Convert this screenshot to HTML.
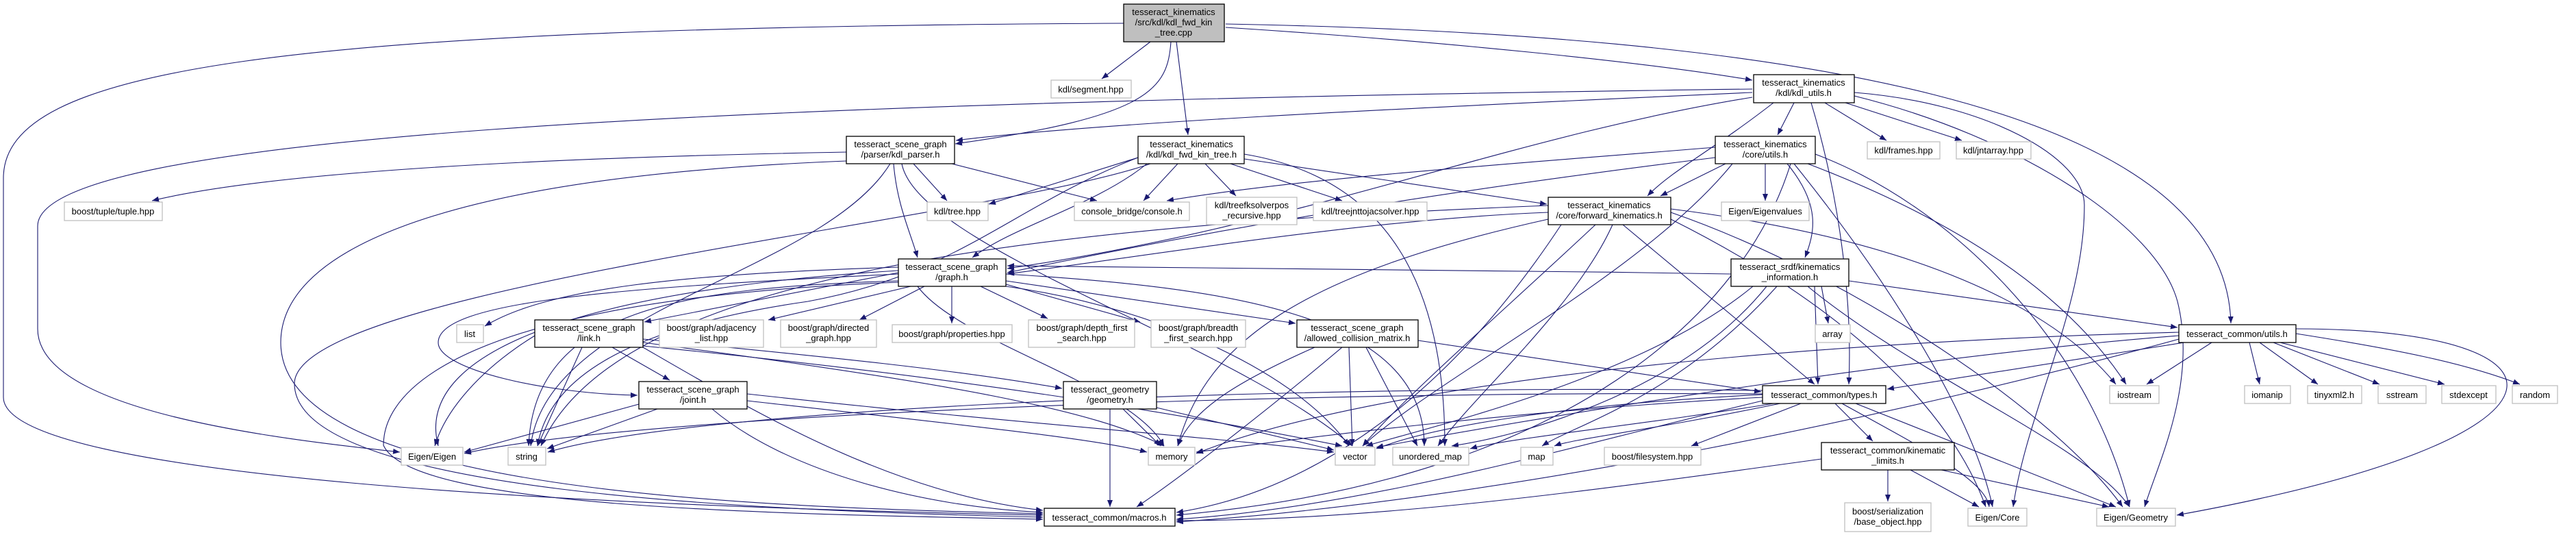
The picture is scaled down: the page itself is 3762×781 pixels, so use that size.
<!DOCTYPE html>
<html><head><meta charset="utf-8"><style>
html,body{margin:0;padding:0;background:#fff;}
svg{display:block;}
text{font-family:"Liberation Sans",Arial,sans-serif;font-size:13px;fill:#000;text-anchor:middle;}
.d{fill:#fff;stroke:#000;stroke-width:1.3;}
.u{fill:#fff;stroke:#bfbfbf;stroke-width:1.3;}
.e{fill:none;stroke:#191970;stroke-width:1.1;marker-end:url(#a);}
</style></head><body>
<svg width="3762" height="781" viewBox="0 0 3762 781" xmlns="http://www.w3.org/2000/svg">
<defs><marker id="a" markerUnits="userSpaceOnUse" markerWidth="11" markerHeight="8" refX="10" refY="4" orient="auto"><path d="M0,0 L10,4 L0,8 z" fill="#191970"/></marker></defs>
<g>
<path class="e" d="M1680,61 L1609,115"/>
<path class="e" d="M1710,61 C1705,130 1680,170 1395,210"/>
<path class="e" d="M1718,61 L1735,197"/>
<path class="e" d="M1790,40 C2100,60 2400,90 2559,117"/>
<path class="e" d="M1790,35 C2600,50 3250,150 3258,472"/>
<path class="e" d="M1641,34 C400,40 5,100 5,260 L5,580 C5,700 900,740 1523,752"/>
<path class="e" d="M2559,130 C1000,150 55,200 55,330 L55,480 C55,600 400,640 584,660"/>
<path class="e" d="M2559,135 C2000,160 1600,180 1396,205"/>
<path class="e" d="M2620,150 L2596,197"/>
<path class="e" d="M2665,150 L2755,205"/>
<path class="e" d="M2695,150 L2865,205"/>
<path class="e" d="M2645,150 C2690,300 2705,450 2700,561"/>
<path class="e" d="M2559,142 C2200,200 1900,330 1471,392"/>
<path class="e" d="M2590,150 C2500,220 2440,250 2406,286"/>
<path class="e" d="M2708,135 C2900,150 3045,230 3044,300 C3044,450 2960,600 2940,740"/>
<path class="e" d="M2708,140 C2950,200 3150,330 3180,440 C3210,560 3150,680 3132,740"/>
<path class="e" d="M1236,222 C800,230 400,250 222,293"/>
<path class="e" d="M1334,239 L1383,293"/>
<path class="e" d="M1390,239 L1602,293"/>
<path class="e" d="M1305,239 C1310,300 1330,340 1340,376"/>
<path class="e" d="M1300,239 C1200,400 800,450 775,651"/>
<path class="e" d="M1236,235 C600,260 410,380 410,500 C410,720 1100,740 1523,750"/>
<path class="e" d="M1317,239 C1340,360 1800,500 1975,651"/>
<path class="e" d="M1662,230 L1444,298"/>
<path class="e" d="M1720,239 L1670,293"/>
<path class="e" d="M1760,239 L1805,286"/>
<path class="e" d="M1797,239 L1960,293"/>
<path class="e" d="M1817,232 L2259,298"/>
<path class="e" d="M1675,239 C1600,300 1480,330 1420,376"/>
<path class="e" d="M1817,225 C2030,260 2110,420 2110,651"/>
<path class="e" d="M1662,230 C1480,300 1400,400 1180,440 C900,480 800,560 785,651"/>
<path class="e" d="M1680,239 C1450,320 430,420 430,560 C430,720 1100,745 1523,755"/>
<path class="e" d="M2505,215 C2200,240 1900,260 1704,293"/>
<path class="e" d="M2578,239 L2578,293"/>
<path class="e" d="M2505,230 C2100,280 1800,330 1471,398"/>
<path class="e" d="M2520,239 L2425,286"/>
<path class="e" d="M2610,239 C2660,300 2650,340 2636,376"/>
<path class="e" d="M2530,239 C2400,400 2100,550 1990,651"/>
<path class="e" d="M2640,239 C2800,300 3000,400 3105,561"/>
<path class="e" d="M2651,225 C2850,300 3050,500 3110,740"/>
<path class="e" d="M2620,239 C2750,400 2880,600 2910,740"/>
<path class="e" d="M2615,239 C2550,450 2300,700 1718,752"/>
<path class="e" d="M2261,310 C2000,320 1700,370 1471,400"/>
<path class="e" d="M2330,328 C2200,450 2050,580 1990,651"/>
<path class="e" d="M2355,328 C2300,450 2150,580 2100,651"/>
<path class="e" d="M2370,328 L2650,561"/>
<path class="e" d="M2440,310 C2700,400 3000,600 3100,740"/>
<path class="e" d="M2440,320 C2700,450 2850,600 2900,740"/>
<path class="e" d="M2440,305 C2800,350 3000,450 3090,561"/>
<path class="e" d="M2280,328 C2100,600 1900,720 1718,748"/>
<path class="e" d="M2261,320 C1900,400 1760,500 1720,651"/>
<path class="e" d="M2261,300 C1500,330 900,400 790,651"/>
<path class="e" d="M1312,390 C1000,400 800,420 708,476"/>
<path class="e" d="M1312,398 L941,470"/>
<path class="e" d="M1330,418 L1122,467"/>
<path class="e" d="M1350,418 L1255,467"/>
<path class="e" d="M1390,418 L1390,472"/>
<path class="e" d="M1432,418 L1530,465"/>
<path class="e" d="M1469,415 L1665,470"/>
<path class="e" d="M1469,410 L1892,472"/>
<path class="e" d="M1312,400 C900,420 640,440 640,500 C640,540 800,575 931,577"/>
<path class="e" d="M1312,410 C1000,420 780,450 772,651"/>
<path class="e" d="M1312,395 C900,420 600,500 640,651"/>
<path class="e" d="M1340,418 C1400,500 1650,560 1700,651"/>
<path class="e" d="M1469,418 C1700,450 1900,550 1970,651"/>
<path class="e" d="M1469,400 C1800,420 2080,460 2080,651"/>
<path class="e" d="M1312,412 C600,440 560,600 560,650 C600,740 1100,750 1523,758"/>
<path class="e" d="M2660,418 L2670,472"/>
<path class="e" d="M2650,418 L2655,561"/>
<path class="e" d="M2700,410 L3180,478"/>
<path class="e" d="M2528,400 C2200,395 1900,390 1471,388"/>
<path class="e" d="M2560,418 C2400,550 2100,620 1995,651"/>
<path class="e" d="M2580,418 C2450,580 2200,640 2120,651"/>
<path class="e" d="M2595,418 C2450,580 2300,620 2252,651"/>
<path class="e" d="M2640,418 C2800,550 3050,650 3110,740"/>
<path class="e" d="M894,507 L978,555"/>
<path class="e" d="M781,490 C700,540 650,600 635,651"/>
<path class="e" d="M850,507 L785,651"/>
<path class="e" d="M939,500 C1400,560 1600,600 1700,651"/>
<path class="e" d="M939,505 C1500,560 1800,620 1960,651"/>
<path class="e" d="M939,495 C1200,520 1400,540 1551,567"/>
<path class="e" d="M939,507 C1100,600 1300,720 1523,745"/>
<path class="e" d="M933,590 L678,660"/>
<path class="e" d="M960,597 L799,655"/>
<path class="e" d="M1091,575 C1500,620 1800,640 1948,660"/>
<path class="e" d="M1040,597 C1150,690 1350,740 1523,748"/>
<path class="e" d="M1091,585 C1400,620 1600,640 1675,660"/>
<path class="e" d="M1920,507 C1800,560 1740,600 1720,651"/>
<path class="e" d="M1970,507 L1975,651"/>
<path class="e" d="M1995,507 L2070,651"/>
<path class="e" d="M2071,497 L2572,572"/>
<path class="e" d="M1960,507 C1850,600 1720,700 1660,740"/>
<path class="e" d="M1640,597 L1695,651"/>
<path class="e" d="M1689,595 L1948,657"/>
<path class="e" d="M1621,597 L1621,740"/>
<path class="e" d="M2574,576 C2300,590 2100,620 2010,655"/>
<path class="e" d="M2574,580 C2200,600 1900,640 1747,660"/>
<path class="e" d="M2590,589 C2400,620 2200,640 2147,655"/>
<path class="e" d="M2600,589 C2400,630 2300,640 2270,651"/>
<path class="e" d="M2630,589 L2470,651"/>
<path class="e" d="M2680,589 L2735,644"/>
<path class="e" d="M2690,589 C2800,650 2900,700 2905,740"/>
<path class="e" d="M2710,589 L3090,740"/>
<path class="e" d="M2574,585 C2300,650 2000,740 1718,758"/>
<path class="e" d="M2574,570 C1800,560 1000,600 800,660"/>
<path class="e" d="M2574,575 C1800,570 900,610 678,662"/>
<path class="e" d="M3230,500 L3135,561"/>
<path class="e" d="M3285,500 L3300,561"/>
<path class="e" d="M3300,500 L3385,561"/>
<path class="e" d="M3320,500 L3475,561"/>
<path class="e" d="M3330,500 L3570,561"/>
<path class="e" d="M3353,487 C3500,510 3600,530 3680,561"/>
<path class="e" d="M3353,480 C3780,480 3800,640 3179,752"/>
<path class="e" d="M3190,500 L2756,568"/>
<path class="e" d="M3182,490 C2800,520 2300,600 2010,653"/>
<path class="e" d="M3182,485 C2600,500 2000,560 1747,662"/>
<path class="e" d="M3182,495 C2800,600 2200,730 1718,762"/>
<path class="e" d="M2757,686 L2757,732"/>
<path class="e" d="M2790,686 L2890,740"/>
<path class="e" d="M2835,686 L3080,740"/>
<path class="e" d="M2660,670 C2300,720 2000,760 1718,760"/>
</g>
<g>
<rect x="1641" y="6" width="147" height="55" fill="#bfbfbf" stroke="#000" stroke-width="1.3"/>
<text x="1714" y="22">tesseract_kinematics</text><text x="1714" y="37">/src/kdl/kdl_fwd_kin</text><text x="1714" y="52">_tree.cpp</text>

<rect class="u" x="1535" y="117" width="117" height="26"/><text x="1593" y="135">kdl/segment.hpp</text>
<rect class="d" x="1236" y="199" width="158" height="40"/><text x="1315" y="215">tesseract_scene_graph</text><text x="1315" y="230">/parser/kdl_parser.h</text>
<rect class="d" x="1662" y="199" width="155" height="40"/><text x="1740" y="215">tesseract_kinematics</text><text x="1740" y="230">/kdl/kdl_fwd_kin_tree.h</text>
<rect class="d" x="2561" y="109" width="147" height="41"/><text x="2634" y="125">tesseract_kinematics</text><text x="2634" y="140">/kdl/kdl_utils.h</text>
<rect class="d" x="2505" y="199" width="146" height="40"/><text x="2578" y="215">tesseract_kinematics</text><text x="2578" y="230">/core/utils.h</text>
<rect class="u" x="2727" y="207" width="106" height="25"/><text x="2780" y="224">kdl/frames.hpp</text>
<rect class="u" x="2857" y="207" width="109" height="25"/><text x="2911" y="224">kdl/jntarray.hpp</text>
<rect class="u" x="94" y="295" width="143" height="27"/><text x="165" y="313">boost/tuple/tuple.hpp</text>
<rect class="u" x="1354" y="295" width="89" height="27"/><text x="1398" y="313">kdl/tree.hpp</text>
<rect class="u" x="1569" y="295" width="168" height="27"/><text x="1653" y="313">console_bridge/console.h</text>
<rect class="u" x="1762" y="288" width="132" height="40"/><text x="1828" y="304">kdl/treefksolverpos</text><text x="1828" y="319">_recursive.hpp</text>
<rect class="u" x="1918" y="295" width="166" height="27"/><text x="2001" y="313">kdl/treejnttojacsolver.hpp</text>
<rect class="u" x="2514" y="295" width="128" height="27"/><text x="2578" y="313">Eigen/Eigenvalues</text>
<rect class="d" x="2261" y="288" width="179" height="40"/><text x="2350" y="304">tesseract_kinematics</text><text x="2350" y="319">/core/forward_kinematics.h</text>
<rect class="d" x="1312" y="378" width="157" height="40"/><text x="1390" y="394">tesseract_scene_graph</text><text x="1390" y="409">/graph.h</text>
<rect class="d" x="2528" y="378" width="172" height="40"/><text x="2614" y="394">tesseract_srdf/kinematics</text><text x="2614" y="409">_information.h</text>
<rect class="u" x="667" y="474" width="39" height="26"/><text x="686" y="492">list</text>
<rect class="d" x="781" y="467" width="158" height="40"/><text x="860" y="483">tesseract_scene_graph</text><text x="860" y="498">/link.h</text>
<rect class="u" x="963" y="467" width="152" height="40"/><text x="1039" y="483">boost/graph/adjacency</text><text x="1039" y="498">_list.hpp</text>
<rect class="u" x="1140" y="467" width="140" height="40"/><text x="1210" y="483">boost/graph/directed</text><text x="1210" y="498">_graph.hpp</text>
<rect class="u" x="1303" y="474" width="175" height="26"/><text x="1390" y="492">boost/graph/properties.hpp</text>
<rect class="u" x="1502" y="467" width="155" height="40"/><text x="1580" y="483">boost/graph/depth_first</text><text x="1580" y="498">_search.hpp</text>
<rect class="u" x="1681" y="467" width="138" height="40"/><text x="1750" y="483">boost/graph/breadth</text><text x="1750" y="498">_first_search.hpp</text>
<rect class="d" x="1894" y="467" width="177" height="40"/><text x="1982" y="483">tesseract_scene_graph</text><text x="1982" y="498">/allowed_collision_matrix.h</text>
<rect class="u" x="2651" y="474" width="51" height="26"/><text x="2676" y="492">array</text>
<rect class="d" x="3182" y="474" width="171" height="26"/><text x="3267" y="492">tesseract_common/utils.h</text>
<rect class="d" x="933" y="557" width="158" height="40"/><text x="1012" y="573">tesseract_scene_graph</text><text x="1012" y="588">/joint.h</text>
<rect class="d" x="1553" y="557" width="136" height="40"/><text x="1621" y="573">tesseract_geometry</text><text x="1621" y="588">/geometry.h</text>
<rect class="d" x="2574" y="563" width="180" height="26"/><text x="2664" y="581">tesseract_common/types.h</text>
<rect class="u" x="3081" y="563" width="72" height="26"/><text x="3117" y="581">iostream</text>
<rect class="u" x="3278" y="563" width="67" height="26"/><text x="3311" y="581">iomanip</text>
<rect class="u" x="3370" y="563" width="79" height="26"/><text x="3409" y="581">tinyxml2.h</text>
<rect class="u" x="3473" y="563" width="70" height="26"/><text x="3508" y="581">sstream</text>
<rect class="u" x="3566" y="563" width="79" height="26"/><text x="3605" y="581">stdexcept</text>
<rect class="u" x="3669" y="563" width="66" height="26"/><text x="3702" y="581">random</text>
<rect class="d" x="2660" y="646" width="194" height="40"/><text x="2757" y="662">tesseract_common/kinematic</text><text x="2757" y="677">_limits.h</text>
<rect class="u" x="586" y="653" width="90" height="26"/><text x="631" y="671">Eigen/Eigen</text>
<rect class="u" x="742" y="653" width="55" height="26"/><text x="769" y="671">string</text>
<rect class="u" x="1677" y="653" width="68" height="26"/><text x="1711" y="671">memory</text>
<rect class="u" x="1950" y="653" width="58" height="26"/><text x="1979" y="671">vector</text>
<rect class="u" x="2034" y="653" width="111" height="26"/><text x="2089" y="671">unordered_map</text>
<rect class="u" x="2221" y="653" width="47" height="26"/><text x="2244" y="671">map</text>
<rect class="u" x="2343" y="653" width="141" height="26"/><text x="2413" y="671">boost/filesystem.hpp</text>
<rect class="u" x="2694" y="734" width="126" height="42"/><text x="2757" y="751">boost/serialization</text><text x="2757" y="766">/base_object.hpp</text>
<rect class="d" x="1525" y="742" width="191" height="26"/><text x="1620" y="760">tesseract_common/macros.h</text>
<rect class="u" x="2874" y="742" width="86" height="26"/><text x="2917" y="760">Eigen/Core</text>
<rect class="u" x="3062" y="742" width="115" height="26"/><text x="3119" y="760">Eigen/Geometry</text>
</g>
</svg>
</body></html>
